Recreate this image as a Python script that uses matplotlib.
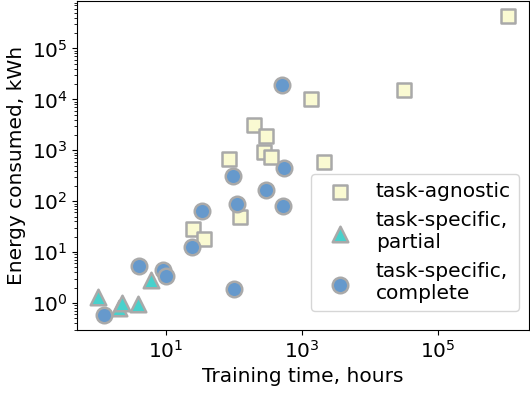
import matplotlib
matplotlib.use("Agg")
import matplotlib.pyplot as plt
from matplotlib.ticker import FixedLocator, NullLocator

# task-agnostic (squares)
agn_time = [1.1e6, 3.2e4, 1350, 200, 296, 280, 355, 85, 2100, 122, 25, 37]
agn_energy = [4.3e5, 1.5e4, 1.0e4, 3100, 1900, 930, 740, 670, 580, 49, 29, 18]

# task-specific, partial (triangles)
part_time = [1.0, 2.05, 2.3, 3.9, 6.1]
part_energy = [1.29, 0.81, 0.99, 0.96, 2.8]

# task-specific, complete (circles)
comp_time = [515, 550, 98, 296, 525, 110, 34.5, 24, 4.05, 9.1, 10.2, 100, 1.23]
comp_energy = [19500, 440, 310, 165, 80, 88, 64, 12.4, 5.4, 4.4, 3.4, 1.9, 0.58]

labels = ["task-agnostic", "task-specific,\npartial", "task-specific,\ncomplete"]
x_ticks = [1e1, 1e3, 1e5]

fs = 14.5
fig = plt.figure(figsize=(5.3, 3.96), dpi=100)
ax = fig.add_axes([0.146, 0.1667, 0.852, 0.83])

edge = "#a9a9a9"
ax.scatter(agn_time, agn_energy, marker="s", s=115, facecolor="#fafad2",
           edgecolor=edge, linewidth=1.8, label=labels[0], zorder=2)
ax.scatter(part_time, part_energy, marker="^", s=125, facecolor="#48d1cc",
           edgecolor=edge, linewidth=1.8, label=labels[1], zorder=2)
ax.scatter(comp_time, comp_energy, marker="o", s=125, facecolor="#6699cc",
           edgecolor=edge, linewidth=1.8, label=labels[2], zorder=2)

ax.set_xscale("log")
ax.set_yscale("log")
ax.xaxis.set_major_locator(FixedLocator(x_ticks))
ax.xaxis.set_minor_locator(NullLocator())
ax.set_xlabel("Training time, hours", fontsize=fs)
ax.set_ylabel("Energy consumed, kWh", fontsize=fs)
ax.tick_params(labelsize=fs)

ax.legend(loc="lower right", fontsize=fs, bbox_to_anchor=(1.0, 0.027))

fig.savefig("out.png", dpi=100)
